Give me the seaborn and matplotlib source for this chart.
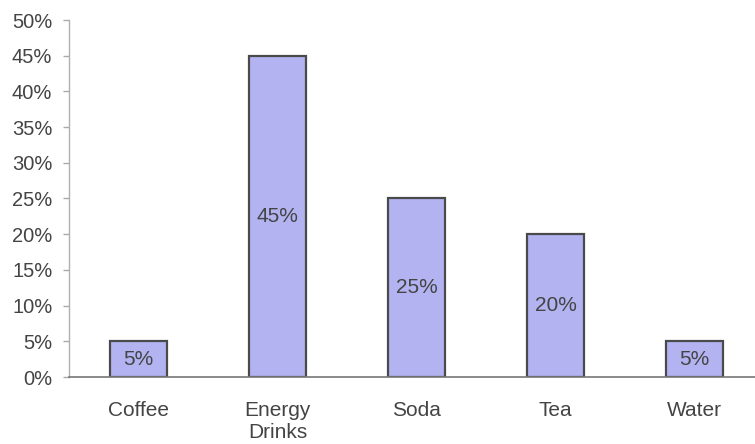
import matplotlib
matplotlib.use("Agg")
import matplotlib.pyplot as plt
import seaborn as sns
import pandas as pd
from matplotlib.ticker import PercentFormatter, FixedLocator

categories = ["Coffee", "Energy\nDrinks", "Soda", "Tea", "Water"]
shares = [5, 45, 25, 20, 5]
value_labels = ["5%", "45%", "25%", "20%", "5%"]

df = pd.DataFrame({"drink": categories, "share": shares})

sns.set_style("white")
plt.rcParams["font.family"] = ["Liberation Sans", "DejaVu Sans"]

fig = plt.figure(figsize=(7.55, 4.44), dpi=100)
ax = fig.add_axes([69 / 755, 67 / 444, 695 / 755, 357 / 444])

sns.barplot(data=df, x="drink", y="share", ax=ax, color="#b3b3f2",
            edgecolor="#4a4a4a", linewidth=1.6, width=0.41, saturation=1)

for patch, lab in zip(ax.patches, value_labels):
    cx = patch.get_x() + patch.get_width() / 2
    cy = patch.get_height() / 2
    ax.text(cx, cy, lab, ha="center", va="center", fontsize=15, color="#444444")

ax.set_xlim(-0.5, 4.5)
ax.set_ylim(0, 50)
ax.set_yticks(range(0, 51, 5))
ax.yaxis.set_major_formatter(PercentFormatter(decimals=0))
ax.set_xlabel("")
ax.set_ylabel("")

ax.xaxis.set_minor_locator(FixedLocator([0.5, 1.5, 2.5, 3.5]))
ax.tick_params(axis="x", which="major", length=0, pad=17, labelsize=15, labelcolor="#444444")
ax.tick_params(axis="x", which="minor", length=5, width=1, color="#888888", direction="out")
ax.tick_params(axis="y", length=4, width=1, color="#aaaaaa", direction="out",
               labelsize=14.5, labelcolor="#444444", pad=8, left=True)

for side in ["top", "right"]:
    ax.spines[side].set_visible(False)
ax.spines["left"].set_color("#b0b0b0")
ax.spines["left"].set_linewidth(1)
ax.spines["bottom"].set_color("#777777")
ax.spines["bottom"].set_linewidth(1.2)

fig.savefig("out.png", dpi=100, facecolor="white")
